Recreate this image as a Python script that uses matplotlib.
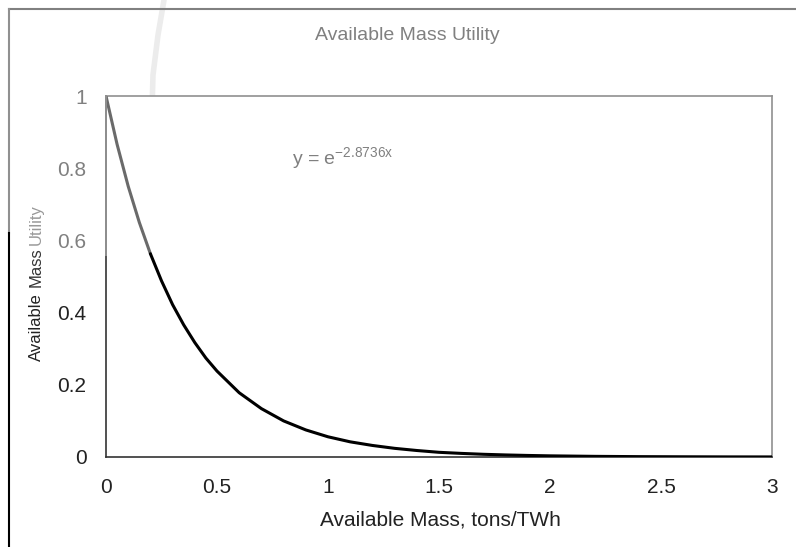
import matplotlib
matplotlib.use('Agg')
import matplotlib.pyplot as plt
from matplotlib.lines import Line2D

plt.rcParams['font.family'] = ['Liberation Sans', 'DejaVu Sans']
plt.rcParams['mathtext.fontset'] = 'custom'
plt.rcParams['mathtext.rm'] = 'Liberation Sans'
plt.rcParams['mathtext.it'] = 'Liberation Sans'

# values
mass = [0, 0.05, 0.1, 0.15, 0.2, 0.25, 0.3, 0.35, 0.4, 0.45, 0.5, 0.6, 0.7,
        0.8, 0.9, 1.0, 1.1, 1.2, 1.3, 1.4, 1.5, 1.6, 1.7, 1.8, 1.9, 2.0,
        2.2, 2.4, 2.6, 2.8, 3.0]
utility = [1.0, 0.866, 0.75, 0.65, 0.563, 0.488, 0.422, 0.366, 0.317, 0.274,
           0.238, 0.178, 0.134, 0.1, 0.075, 0.056, 0.042, 0.032, 0.024, 0.018,
           0.013, 0.01, 0.0075, 0.0057, 0.0043, 0.0032, 0.0018, 0.001, 0.0006,
           0.0003, 0.0002]
xticks = [0, 0.5, 1, 1.5, 2, 2.5, 3]
xticklabels = ['0', '0.5', '1', '1.5', '2', '2.5', '3']
yticks = [0, 0.2, 0.4, 0.6, 0.8, 1]
yticklabels = ['0', '0.2', '0.4', '0.6', '0.8', '1']

W, H = 796, 547
fig = plt.figure(figsize=(W/100, H/100), dpi=100)
ax = fig.add_axes([106/W, 1-457/H, 666/W, 361/H])

gray = '#808080'
split = 0.56	# scan goes grey above this height

hi = [i for i in range(len(mass)) if utility[i] >= split]
lo = [i for i in range(len(mass)) if utility[i] < split]
lo = [hi[-1]] + lo
ax.plot([mass[i] for i in hi], [utility[i] for i in hi], color='#6a6a6a', lw=2.2,
        solid_capstyle='round', zorder=3)
ax.plot([mass[i] for i in lo], [utility[i] for i in lo], color='black', lw=2.2,
        solid_capstyle='round', zorder=3)

ax.set_xlim(0, 3)
ax.set_ylim(0, 1)
ax.set_xticks(xticks)
ax.set_xticklabels(xticklabels)
ax.set_yticks(yticks)
ax.set_yticklabels(yticklabels)
ax.tick_params(length=0, labelsize=15)
ax.tick_params(axis='x', pad=15, colors='#222222')
ax.tick_params(axis='y', pad=14)
for lbl, v in zip(ax.get_yticklabels(), yticks):
	lbl.set_color(gray if v >= 0.6 else '#222222')

ax.spines['top'].set_color('#909090')
ax.spines['right'].set_color('#909090')
ax.spines['bottom'].set_color('#333333')
ax.spines['left'].set_color('#333333')
for s in ax.spines.values():
	s.set_linewidth(1.2)
# upper part of left spine is grey in the scan
ax.plot([0, 0], [split, 1], color='#909090', lw=1.4, clip_on=False, zorder=4)

ax.text(0.84, 0.81, r'y = e$^{-2.8736x}$', color=gray, fontsize=14)

fig.text(407/W, 1-35/H, 'Available Mass Utility', color=gray, fontsize=14,
         ha='center', va='center')
fig.text(440/W, 1-520/H, 'Available Mass, tons/TWh', color='#222222', fontsize=15,
         ha='center', va='center')
# y label: scan is darker at the bottom, lighter towards the top
fig.text(36/W, 1-361/H, 'Available', rotation=90, color='#222222', fontsize=12,
         ha='center', va='bottom')
fig.text(36/W, 1-287/H, 'Mass', rotation=90, color='#333333', fontsize=12,
         ha='center', va='bottom')
fig.text(36/W, 1-245/H, 'Utility', rotation=90, color='#999999', fontsize=12,
         ha='center', va='bottom')

# outer chart border from the scan
fig.add_artist(Line2D([9/W, 1], [1-9/H, 1-9/H], color='#808080', lw=1.5))
fig.add_artist(Line2D([9/W, 9/W], [1-9/H, 1-233/H], color='#909090', lw=1.5))
fig.add_artist(Line2D([9/W, 9/W], [1-233/H, 0], color='black', lw=1.5))
# faint smudge near the top
fig.add_artist(Line2D([164/W, 158/W, 153/W, 152/W, 155/W],
                      [1, 1-35/H, 1-75/H, 1-110/H, 1-140/H],
                      color='#ececec', lw=4, solid_capstyle='round', zorder=0))

fig.savefig('out.png', dpi=100)
